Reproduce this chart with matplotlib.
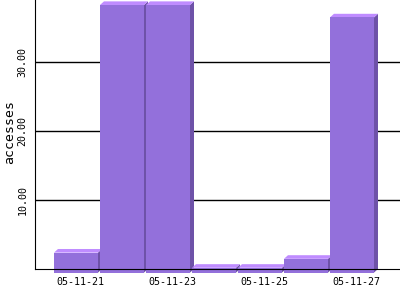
# Daily accesses, 3D-style bar chart

import matplotlib
matplotlib.use('Agg')
import matplotlib.pyplot as plt
from matplotlib.patches import Polygon

# --- data ---------------------------------------------------------------
days = ['05-11-21', '05-11-22', '05-11-23', '05-11-24',
        '05-11-25', '05-11-26', '05-11-27']
accesses = [2.9, 38.8, 38.8, 0.7, 0.7, 2.0, 37.0]
shown_ticks = [0, 2, 4, 6]
y_ticks = [10, 20, 30]

# --- style --------------------------------------------------------------
front_col = '#9370db'
top_col = '#bf8cff'
side_col = '#6e52a8'
bar_w = 0.957
depth_x_px = 4
depth_y_px = 3.6
mono = 'DejaVu Sans Mono'

fig = plt.figure(figsize=(4, 3), dpi=100)
ax = fig.add_axes([35 / 400, 31 / 300, 365 / 400, 269 / 300])
xmin, xmax = -0.978, 6.957
ymin, ymax = 0, 39
ax.set_xlim(xmin, xmax)
ax.set_ylim(ymin, ymax)

# depth in data units
ddx = depth_x_px * (xmax - xmin) / 365
ddy = depth_y_px * (ymax - ymin) / 269

# grid lines behind the bars
for t in y_ticks:
    ax.axhline(t, color='black', lw=1, zorder=1)

for i, v in enumerate(accesses):
    xl = i - bar_w / 2
    xr = i + bar_w / 2
    front = [(xl - ddx, -ddy), (xr - ddx, -ddy), (xr - ddx, v - ddy), (xl - ddx, v - ddy)]
    top = [(xl - ddx, v - ddy), (xr - ddx, v - ddy), (xr, v), (xl, v)]
    side = [(xr - ddx, -ddy), (xr, 0), (xr, v), (xr - ddx, v - ddy)]
    for pts, c in ((side, side_col), (top, top_col), (front, front_col)):
        ax.add_patch(Polygon(pts, closed=True, facecolor=c, edgecolor='none',
                             zorder=3 + i * 0.01, clip_on=False))

# axes look - the bottom axis line sits on top of the bars
for s in ('top', 'right'):
    ax.spines[s].set_visible(False)
ax.spines['left'].set_color('black')
ax.spines['bottom'].set_color('black')
ax.spines['bottom'].set_zorder(10)

ax.set_xticks(shown_ticks)
ax.set_xticklabels([days[i] for i in shown_ticks], fontsize=7.2, family=mono)
ax.set_yticks(y_ticks)
ax.set_yticklabels(['%.2f' % t for t in y_ticks], fontsize=7.2, family=mono,
                   rotation=90, va='center')
ax.tick_params(axis='both', length=0)
ax.tick_params(axis='x', pad=5.8)
ax.tick_params(axis='y', pad=5.5)

fig.text(9.5 / 400, 1 - 132.5 / 300, 'accesses', rotation=90, ha='center',
         va='center', fontsize=9.5, family=mono)

fig.savefig('out.png', dpi=100)
